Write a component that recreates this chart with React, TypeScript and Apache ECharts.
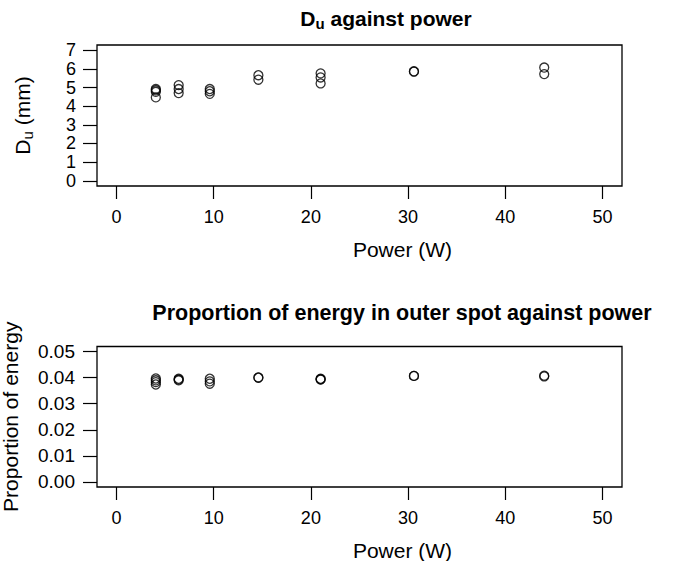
import React, { useEffect, useRef } from "react";
import * as echarts from "echarts";

const power = [4.05, 4.05, 4.05, 4.05, 6.4, 6.4, 6.4, 9.6, 9.6, 9.6, 14.6, 14.6, 21, 21, 21, 30.6, 30.6, 44, 44];
const du = [4.92, 4.85, 4.77, 4.47, 5.13, 4.92, 4.7, 4.92, 4.8, 4.66, 5.66, 5.42, 5.76, 5.54, 5.22, 5.85, 5.87, 6.07, 5.72];
const energy = [0.0397, 0.039, 0.0383, 0.0374, 0.0396, 0.0393, 0.039, 0.0396, 0.0386, 0.0377, 0.0401, 0.04, 0.0396, 0.0393, 0.0394, 0.0407, 0.0407, 0.0408, 0.0405];
const xTicks = [0, 10, 20, 30, 40, 50];
const duTicks = [0, 1, 2, 3, 4, 5, 6, 7];
const energyTicks = [0, 0.01, 0.02, 0.03, 0.04, 0.05];

const FONT = "'Liberation Sans', Arial, Helvetica, sans-serif";

export default function App() {
  const ref = useRef<HTMLDivElement>(null);
  useEffect(() => {
    document.body.style.margin = "0";
    const chart = echarts.init(ref.current!, null, { renderer: "svg" });
    const sym = {
      symbol: "circle",
      symbolSize: 9,
      itemStyle: { color: "rgba(0,0,0,0)", borderColor: "#000", borderWidth: 1.3 },
    };
    const xAxisBase = (gi: number) => ({
      type: "value",
      gridIndex: gi,
      min: -2,
      max: 52,
      splitLine: { show: false },
      axisLine: { show: false, onZero: false },
      axisTick: { show: true, inside: false, length: 13, customValues: xTicks, lineStyle: { color: "#000", width: 1.2 } },
      axisLabel: { customValues: xTicks, color: "#000", fontSize: 18, fontFamily: FONT, margin: 22 },
      name: "Power (W)",
      nameLocation: "middle",
      nameGap: 53,
      nameTextStyle: { color: "#000", fontSize: 21, fontFamily: FONT, padding: [0, 0, 0, 86] },
    });
    const opt: any = {
      animation: false,
      backgroundColor: "#fff",
      textStyle: { fontFamily: FONT },
      title: [
        {
          text: "{b|D}{s|u}{b| against power}",
          left: 381,
          top: 0,
          textAlign: "center",
          textStyle: {
            rich: {
              b: { fontSize: 21, fontWeight: "bold", fontFamily: FONT, color: "#000", lineHeight: 26 },
              s: { fontSize: 15, fontWeight: "bold", fontFamily: FONT, color: "#000", verticalAlign: "bottom", lineHeight: 26, padding: [9, 0, 0, 0] },
            },
          },
        },
        {
          text: "Proportion of energy in outer spot against power",
          left: 397,
          top: 297,
          textAlign: "center",
          textStyle: { fontSize: 21.5, fontWeight: "bold", fontFamily: FONT, color: "#000" },
        },
      ],
      grid: [
        { left: 97, top: 45, width: 525, height: 141, outerBoundsMode: "none", containLabel: false, show: true, borderColor: "#000", borderWidth: 1.3, backgroundColor: "transparent" },
        { left: 97, top: 346.5, width: 525, height: 140.5, outerBoundsMode: "none", containLabel: false, show: true, borderColor: "#000", borderWidth: 1.3, backgroundColor: "transparent" },
      ],
      xAxis: [xAxisBase(0), xAxisBase(1)],
      yAxis: [
        {
          type: "value",
          gridIndex: 0,
          min: -0.28,
          max: 7.28,
          splitLine: { show: false },
          axisLine: { show: false, onZero: false },
          axisTick: { show: true, inside: false, length: 14, customValues: duTicks, lineStyle: { color: "#000", width: 1.2 } },
          axisLabel: { customValues: duTicks, color: "#000", fontSize: 18, fontFamily: FONT, margin: 21 },
          name: "{n|D}{s|u}{n| (mm)}",
          nameLocation: "middle",
          nameRotate: 90,
          nameGap: 62,
          nameTextStyle: {
            rich: {
              n: { fontSize: 21, fontFamily: FONT, color: "#000", lineHeight: 26 },
              s: { fontSize: 15, fontFamily: FONT, color: "#000", verticalAlign: "bottom", lineHeight: 26, padding: [9, 0, 0, 0] },
            },
          },
        },
        {
          type: "value",
          gridIndex: 1,
          min: -0.002,
          max: 0.052,
          splitLine: { show: false },
          axisLine: { show: false, onZero: false },
          axisTick: { show: true, inside: false, length: 14, customValues: energyTicks, lineStyle: { color: "#000", width: 1.2 } },
          axisLabel: {
            customValues: energyTicks,
            color: "#000",
            fontSize: 19,
            fontFamily: FONT,
            margin: 22,
            formatter: (v: number) => v.toFixed(2),
          },
          name: "Proportion of energy",
          nameLocation: "middle",
          nameRotate: 90,
          nameGap: 76,
          nameTextStyle: { fontSize: 21, fontFamily: FONT, color: "#000" },
        },
      ],
      series: [
        { type: "scatter", xAxisIndex: 0, yAxisIndex: 0, data: power.map((p, i) => [p, du[i]]), ...sym },
        { type: "scatter", xAxisIndex: 1, yAxisIndex: 1, data: power.map((p, i) => [p, energy[i]]), ...sym },
      ],
    };
    chart.setOption(opt);
    return () => chart.dispose();
  }, []);
  return <div ref={ref} style={{ position: "absolute", left: 0, top: 0, width: 699, height: 561 }} />;
}
